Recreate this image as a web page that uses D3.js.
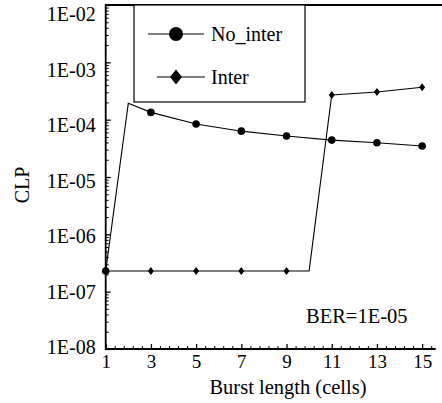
<!DOCTYPE html>
<html>
<head>
<meta charset="utf-8">
<script src="https://cdn.jsdelivr.net/npm/d3@7"></script>
<style>
  body { margin: 0; background: #fff; }
  svg { display: block; }
  svg text { font-family: 'Liberation Serif', 'DejaVu Serif', 'Times New Roman', Times, serif !important; fill: #000; }
</style>
</head>
<body>
<div id="chart"></div>
<script>
// burst lengths (cells) and CLP values
const burstNoInter = [1, 2, 3, 5, 7, 9, 11, 13, 15];
const clpNoInter = [2.3e-7, 1.93e-4, 1.34e-4, 8.4e-5, 6.3e-5, 5.2e-5, 4.4e-5, 3.96e-5, 3.47e-5];
const burstInter = [1, 3, 5, 7, 9, 10, 11, 13, 15];
const clpInter = [2.3e-7, 2.3e-7, 2.3e-7, 2.3e-7, 2.3e-7, 2.3e-7, 2.69e-4, 3.04e-4, 3.67e-4];

const xTicks = [1, 3, 5, 7, 9, 11, 13, 15];
const yTicks = [1e-8, 1e-7, 1e-6, 1e-5, 1e-4, 1e-3, 1e-2];
const yTickLabels = ['1E-08', '1E-07', '1E-06', '1E-05', '1E-04', '1E-03', '1E-02'];
const seriesNames = ['No_inter', 'Inter'];
const note = 'BER=1E-05';

const W = 442, H = 403;
const plot = { left: 105.7, right: 435.7, top: 5, bottom: 349 };
const serif = "'Liberation Serif', 'DejaVu Serif', 'Times New Roman', Times, serif";

const svg = d3.select('#chart').append('svg')
  .attr('width', W)
  .attr('height', H)
  .attr('font-family', serif);

const x = d3.scaleLinear().domain([1, 15.6]).range([plot.left, plot.right]);
const y = d3.scaleLog().domain([1e-8, 1e-2]).range([plot.bottom, plot.top]);
// the scanned labels sit a little lower than their ticks near the top
const yLab = d3.scaleLog().domain([1e-8, 1e-2]).range([347, 14]);

// minor ticks
const yMinor = [];
yTicks.slice(0, -1).forEach(d => { for (let k = 2; k <= 9; k++) yMinor.push(d * k); });
const xMinor = d3.range(0, 37).map(k => 1 + k * 0.4).filter((d, k) => k % 5 !== 0);

svg.append('g')
  .attr('transform', 'translate(' + plot.left + ',0)')
  .call(d3.axisLeft(y).tickValues(yMinor).tickSize(-3).tickFormat(''))
  .call(g => g.select('.domain').remove())
  .selectAll('line').attr('stroke-width', 1);

svg.append('g')
  .attr('transform', 'translate(0,' + plot.bottom + ')')
  .call(d3.axisBottom(x).tickValues(xMinor).tickSize(-3).tickFormat(''))
  .call(g => g.select('.domain').remove())
  .selectAll('line').attr('stroke-width', 1);

// major ticks
svg.append('g')
  .attr('transform', 'translate(' + plot.left + ',0)')
  .call(d3.axisLeft(y).tickValues(yTicks).tickSize(-5).tickFormat(''))
  .call(g => g.select('.domain').remove())
  .selectAll('line').attr('stroke-width', 1.3);

svg.append('g')
  .attr('transform', 'translate(0,' + plot.bottom + ')')
  .call(d3.axisBottom(x).tickValues(xTicks).tickSize(-5).tickPadding(6).tickFormat(d3.format('d')))
  .attr('font-family', serif)
  .attr('font-size', 19)
  .call(g => g.select('.domain').remove())
  .call(g => g.selectAll('line').attr('stroke-width', 1.3))
  .selectAll('text')
  .attr('fill', '#000');

svg.append('g').selectAll('text')
  .data(yTicks)
  .join('text')
  .attr('x', plot.left - 10)
  .attr('y', d => yLab(d))
  .attr('dy', '0.35em')
  .attr('text-anchor', 'end')
  .attr('font-size', 20)
  .text((d, i) => yTickLabels[i]);

// frame: left, bottom, top
svg.append('path')
  .attr('d', 'M' + W + ',' + plot.top + 'H' + plot.left + 'V' + plot.bottom + 'H' + plot.right)
  .attr('fill', 'none')
  .attr('stroke', '#000')
  .attr('stroke-width', 1.8);

// series lines
const line = d3.line()
  .x(d => x(d[0]))
  .y(d => y(d[1]));

const noInter = burstNoInter.map((b, i) => [b, clpNoInter[i]]);
const inter = burstInter.map((b, i) => [b, clpInter[i]]);

svg.append('path')
  .datum(inter)
  .attr('fill', 'none')
  .attr('stroke', '#000')
  .attr('stroke-width', 1.1)
  .attr('d', line);

svg.append('path')
  .datum(noInter)
  .attr('fill', 'none')
  .attr('stroke', '#000')
  .attr('stroke-width', 1.1)
  .attr('d', line);

// markers only on odd burst lengths
const diamond = (cx, cy, w, h) =>
  'M' + cx + ',' + (cy - h) + 'L' + (cx + w) + ',' + cy + 'L' + cx + ',' + (cy + h) + 'L' + (cx - w) + ',' + cy + 'Z';

svg.append('g').selectAll('path')
  .data(inter.filter(d => d[0] % 2 === 1))
  .join('path')
  .attr('d', d => diamond(x(d[0]), y(d[1]), 3, 4))
  .attr('fill', '#000');

svg.append('g').selectAll('circle')
  .data(noInter.filter(d => d[0] % 2 === 1))
  .join('circle')
  .attr('cx', d => x(d[0]))
  .attr('cy', d => y(d[1]))
  .attr('r', 3.8)
  .attr('fill', '#000');

// legend
const lg = svg.append('g');
lg.append('rect')
  .attr('x', 134).attr('y', plot.top)
  .attr('width', 171).attr('height', 97)
  .attr('fill', '#fff')
  .attr('stroke', '#000')
  .attr('stroke-width', 1.2);

const rows = [34, 77];
lg.append('line').attr('x1', 148).attr('x2', 204).attr('y1', rows[0]).attr('y2', rows[0]).attr('stroke', '#000');
lg.append('circle').attr('cx', 176).attr('cy', rows[0]).attr('r', 7).attr('fill', '#000');
lg.append('line').attr('x1', 157).attr('x2', 205).attr('y1', rows[1]).attr('y2', rows[1]).attr('stroke', '#000');
lg.append('path').attr('d', diamond(176, rows[1], 6, 7.5)).attr('fill', '#000');

lg.selectAll('text.lab')
  .data(seriesNames)
  .join('text')
  .attr('class', 'lab')
  .attr('x', 211)
  .attr('y', (d, i) => rows[i])
  .attr('dy', '0.35em')
  .attr('font-size', 20)
  .text(d => d);

// axis titles and note
svg.append('text')
  .attr('transform', 'translate(29,185) rotate(-90)')
  .attr('text-anchor', 'middle')
  .attr('font-size', 20)
  .text('CLP');

svg.append('text')
  .attr('x', 288)
  .attr('y', 394)
  .attr('text-anchor', 'middle')
  .attr('font-size', 20.5)
  .text('Burst length (cells)');

svg.append('text')
  .attr('x', 306)
  .attr('y', 323)
  .attr('font-size', 20.5)
  .text(note);
</script>
</body>
</html>
